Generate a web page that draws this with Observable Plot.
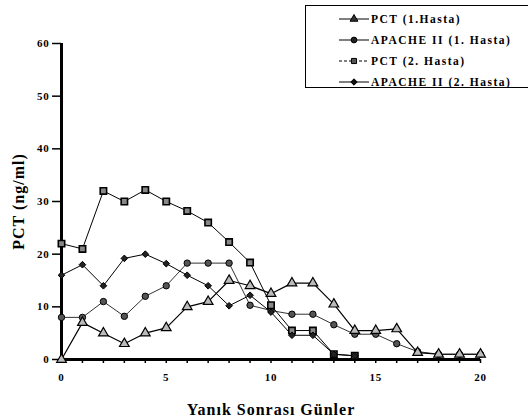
<!DOCTYPE html>
<html>
<head>
<meta charset="utf-8">
<script src="https://cdn.jsdelivr.net/npm/d3@7"></script>
<script src="https://cdn.jsdelivr.net/npm/@observablehq/plot@0.6"></script>
<style>
  html, body { margin: 0; padding: 0; background: #fff; }
  #wrap { position: relative; width: 528px; height: 420px; overflow: hidden; }
  #legend { position: absolute; left: 305px; top: 5px; width: 240px; height: 83px;
            border: 1px solid #000; box-sizing: border-box; background: #fff; }
  #legend svg { display: block; }
</style>
</head>
<body>
<div id="wrap"><div id="legend"></div></div>
<script>
// ---- data ----
const days = [0,1,2,3,4,5,6,7,8,9,10,11,12,13,14,15,16,17,18,19,20];
const pct1 =    [0,7,5,3,5,6,10,11,15,14,12.5,14.5,14.5,10.5,5.5,5.5,5.8,1.3,1,1,1];
const apache1 = [8,8,11,8.2,12,14,18.3,18.3,18.3,10.3,9.3,8.6,8.6,6.6,4.8,4.8,3,1.5,1,1,1];
const days2 = [0,1,2,3,4,5,6,7,8,9,10,11,12,13,14];
const pct2 =    [22,21,32,30,32.2,30,28.2,26,22.3,18.4,10.3,5.5,5.5,1,0.7];
const apache2 = [16,18,14,19.2,20,18.2,16,14,10.2,12.2,9,4.6,4.6,1,0.7];
const seriesNames = ["PCT (1.Hasta)", "APACHE II (1. Hasta)", "PCT (2. Hasta)", "APACHE II (2. Hasta)"];
const xTicks = [0,5,10,15,20];
const yTicks = [0,10,20,30,40,50,60];

const s1 = days.map((d,i) => ({day: d, v: pct1[i]}));
const s2 = days.map((d,i) => ({day: d, v: apache1[i]}));
const s3 = days2.map((d,i) => ({day: d, v: pct2[i]}));
const s4 = days2.map((d,i) => ({day: d, v: apache2[i]}));

const font = "'Liberation Serif', 'DejaVu Serif', serif";

const chart = Plot.plot({
  width: 528, height: 420,
  marginLeft: 61, marginRight: 48, marginTop: 43, marginBottom: 61,
  style: {fontFamily: font, fontWeight: "bold", fontSize: "11px", background: "#fff", color: "#000"},
  x: {domain: [0, 20]},
  y: {domain: [0, 60]},
  marks: [
    Plot.axisX(d3.range(0, 21), {tickSize: 4, text: null, label: null, strokeWidth: 1.5}),
    Plot.axisX(xTicks, {tickSize: 0, tickPadding: 14, fontSize: 11, fontWeight: "bold",
      label: "Yanık Sonrası Günler", labelAnchor: "center", labelArrow: "none", labelOffset: 55}),
    Plot.axisY(yTicks, {tickSize: 9, tickPadding: 3, strokeWidth: 1.5, fontSize: 11, fontWeight: "bold",
      label: "PCT (ng/ml)", labelAnchor: "center", labelArrow: "none", labelOffset: 49}),
    Plot.line(s2, {x: "day", y: "v", stroke: "#333", strokeWidth: 1}),
    Plot.line(s1, {x: "day", y: "v", stroke: "#000", strokeWidth: 1.2}),
    Plot.line(s3, {x: "day", y: "v", stroke: "#000", strokeWidth: 1}),
    Plot.line(s4, {x: "day", y: "v", stroke: "#000", strokeWidth: 1}),
    Plot.ruleY([0], {stroke: "#000", strokeWidth: 3}),
    Plot.ruleX([0], {stroke: "#000", strokeWidth: 3}),
    Plot.dot(s2, {x: "day", y: "v", symbol: "circle", r: 3.2, fill: "#555", stroke: "#000", strokeWidth: 1}),
    Plot.dot(s1, {x: "day", y: "v", symbol: "triangle", r: 3.6, fill: "#bbb", stroke: "#000", strokeWidth: 1.2}),
    Plot.dot(s3, {x: "day", y: "v", symbol: "square", r: 3.6, fill: "#888", stroke: "#000", strokeWidth: 1.6}),
    Plot.dot(s4, {x: "day", y: "v", symbol: "diamond2", r: 3, fill: "#222", stroke: "#000", strokeWidth: 1})
  ]
});
chart.querySelectorAll("g[aria-label='x-axis tick label'] text, g[aria-label='y-axis tick label'] text").forEach(t => {
  t.style.letterSpacing = "0.8px";
});
chart.querySelectorAll("g[aria-label='x-axis label'] text, g[aria-label='y-axis label'] text").forEach(t => {
  t.setAttribute("font-size", "16"); t.style.fontSize = "16px"; t.style.letterSpacing = "1px";
});
document.getElementById("wrap").prepend(chart);
chart.style.position = "absolute"; chart.style.left = "0"; chart.style.top = "0";

// ---- legend ----
const symbols = [d3.symbolTriangle, d3.symbolCircle, d3.symbolSquare, d3.symbolDiamond2];
const fills = ["#333", "#222", "#555", "#111"];
const lg = d3.select("#legend").append("svg").attr("width", 240).attr("height", 82);
seriesNames.forEach((name, i) => {
  const y = 13 + i * 21;
  lg.append("line").attr("x1", 33).attr("x2", 63).attr("y1", y).attr("y2", y)
    .attr("stroke", "#000").attr("stroke-width", 1)
    .attr("stroke-dasharray", i === 2 ? "3,2" : null);
  lg.append("path").attr("d", d3.symbol(symbols[i], 26)()).attr("transform", `translate(48,${y})`)
    .attr("fill", fills[i]).attr("stroke", "#000");
  lg.append("text").attr("x", 65).attr("y", y + 4).text(name)
    .attr("font-family", font).attr("font-weight", "bold").attr("font-size", 11.5)
    .style("letter-spacing", "1.5px");
});
</script>
</body>
</html>
